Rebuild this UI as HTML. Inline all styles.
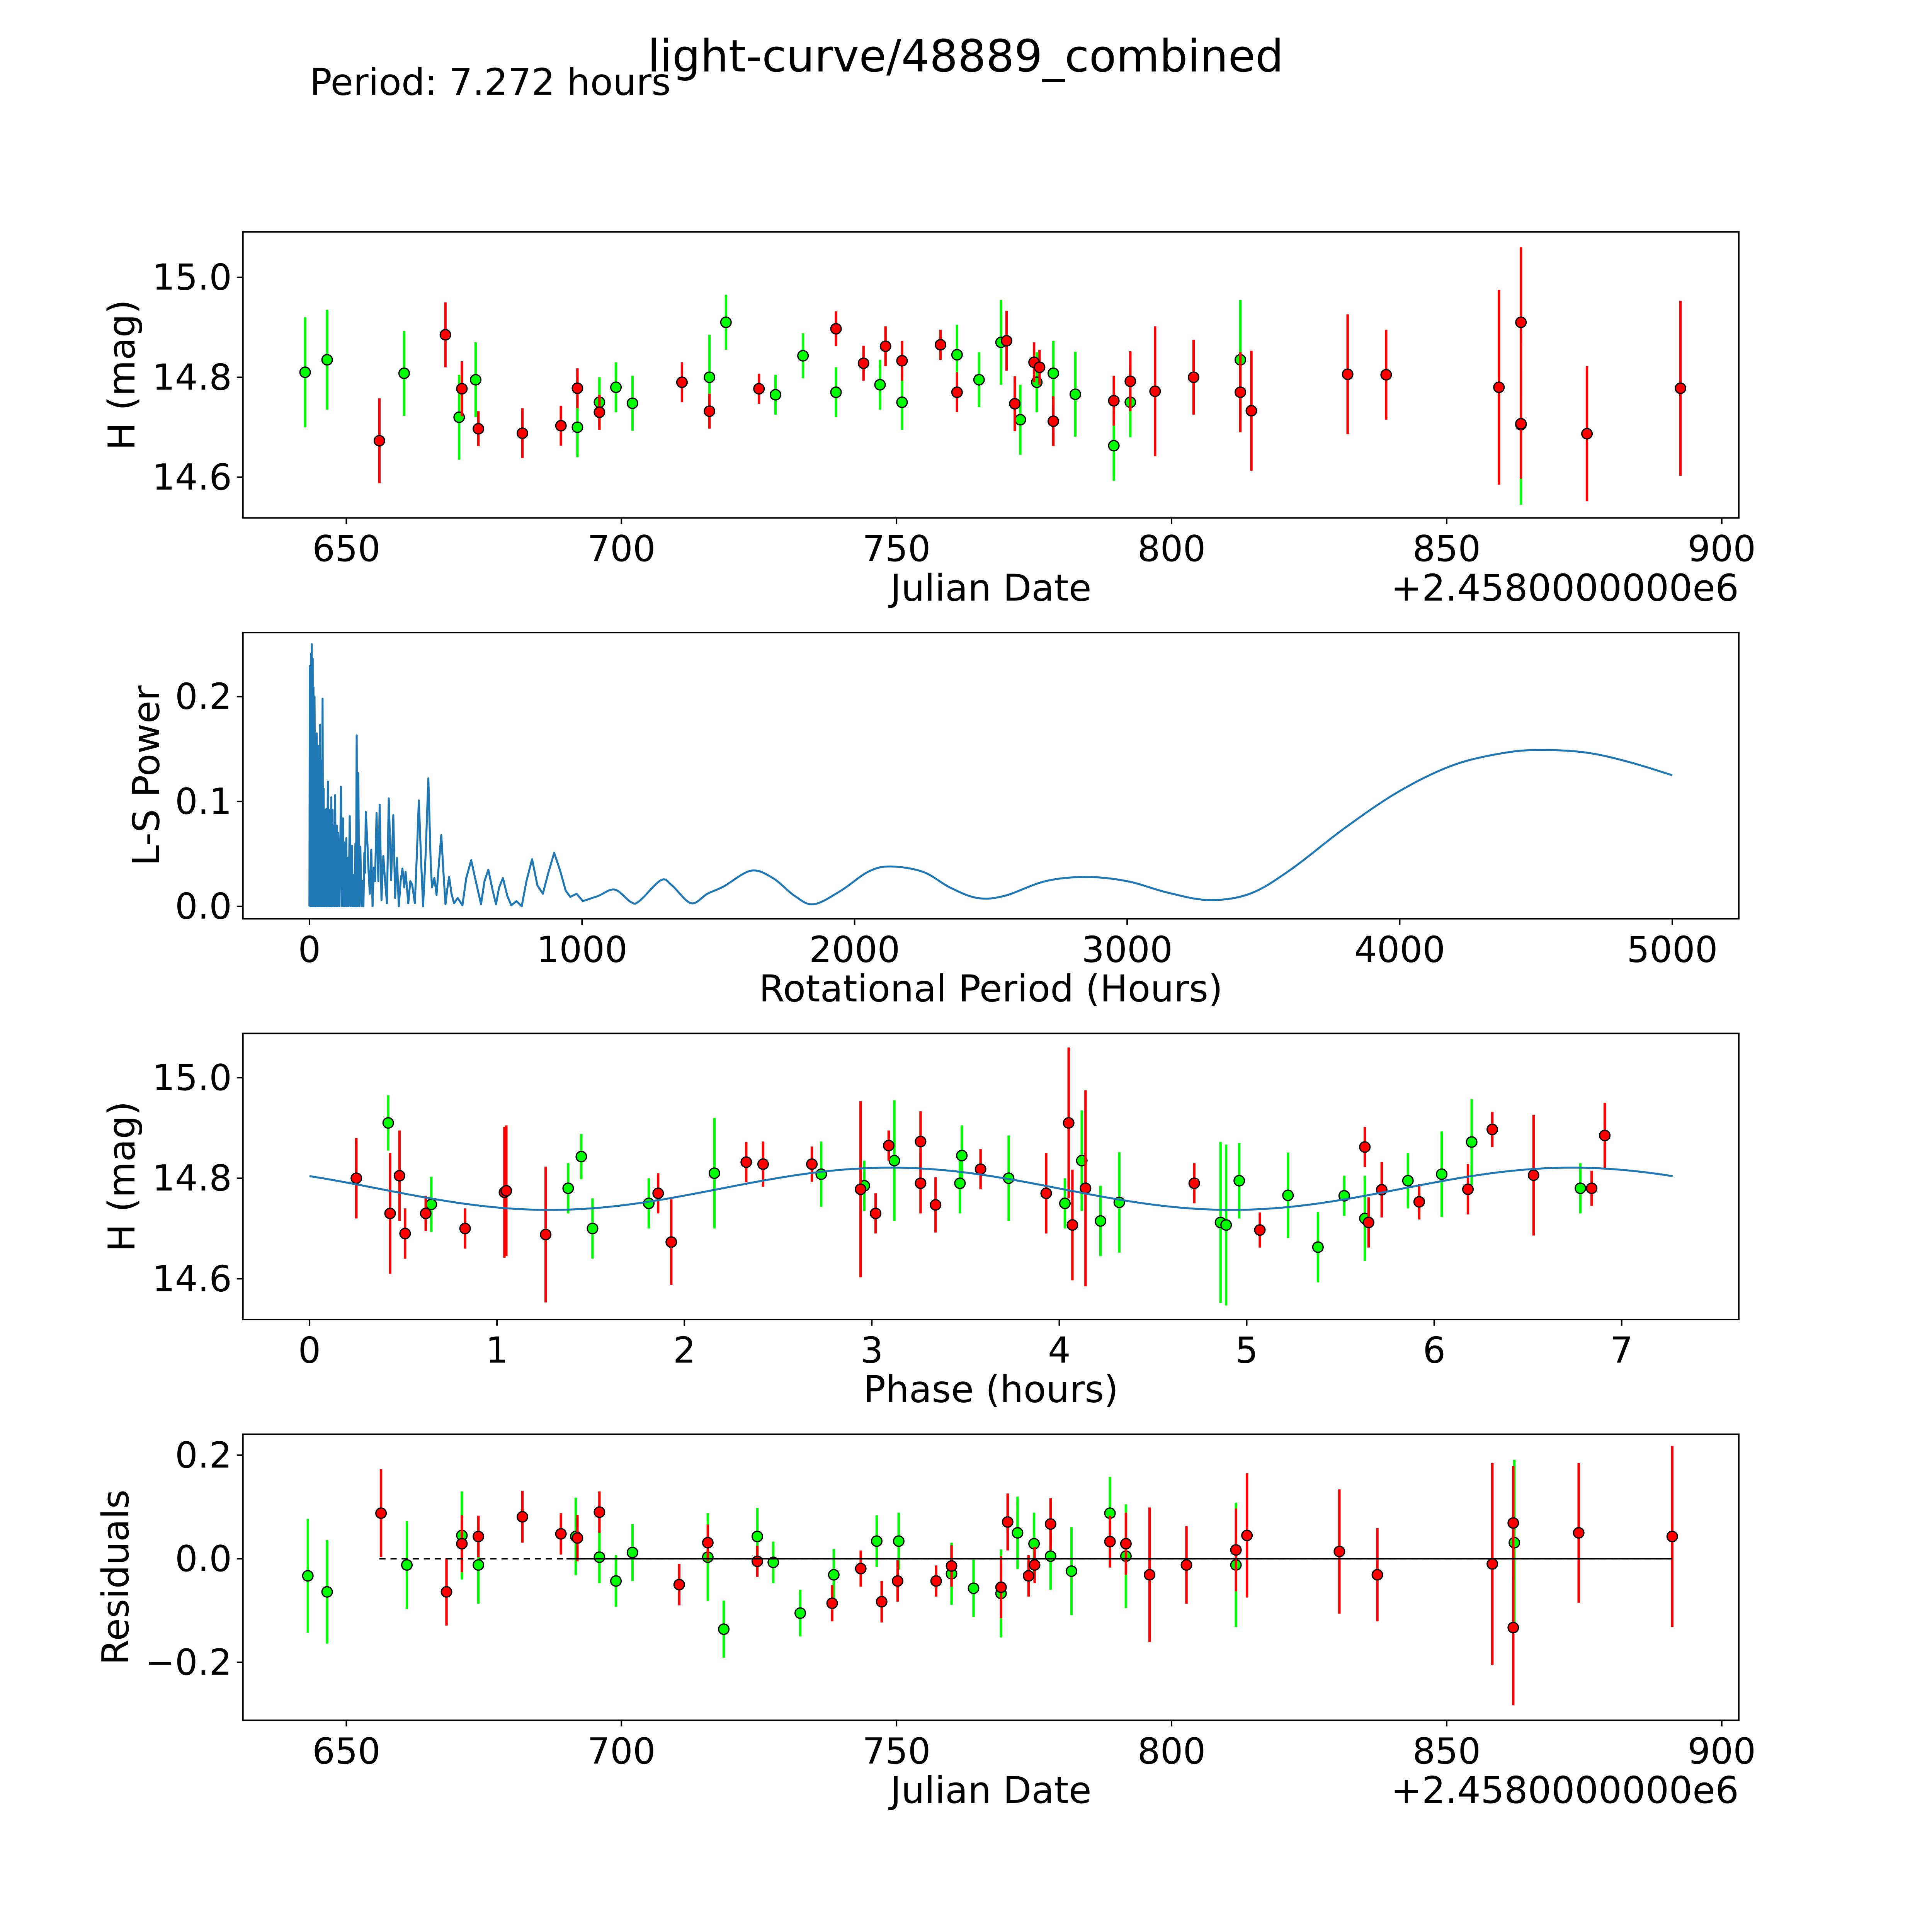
<!DOCTYPE html>
<html><head><meta charset="utf-8"><style>
html,body{margin:0;padding:0;background:#fff;width:5400px;height:5400px;overflow:hidden;}
svg{display:block;width:5400px;height:5400px;font-family:"DejaVu Sans","Liberation Sans",sans-serif;}
</style></head><body>
<svg id="chart" xmlns="http://www.w3.org/2000/svg" width="5400" height="5400" viewBox="0 0 1692 1692" preserveAspectRatio="xMinYMin meet">
<rect x="0" y="0" width="1692" height="1692" fill="#fff"/>
<text x="783" y="58" font-size="36" text-anchor="middle">light-curve/48889_combined</text>
<text x="251" y="77" font-size="30">Period: 7.272 hours</text>
</svg>
<script>
// ---- Panel 1 / 4 data (Julian date offset, H mag, error) ----
const greenDates=[642.5,646.5,660.5,670.5,673.5,692,696,699,702,716,719,728,733,739,747,751,761,765,769,772.5,775.5,778.5,782.5,789.5,792.5,812.5,863.5];
const greenMags=[14.81,14.835,14.808,14.72,14.795,14.70,14.75,14.78,14.748,14.80,14.91,14.765,14.843,14.77,14.785,14.75,14.845,14.795,14.87,14.715,14.79,14.808,14.766,14.663,14.75,14.835,14.705];
const greenErrs=[0.11,0.1,0.085,0.085,0.075,0.06,0.05,0.05,0.055,0.085,0.055,0.04,0.045,0.05,0.05,0.055,0.06,0.055,0.085,0.07,0.06,0.065,0.085,0.07,0.07,0.12,0.16];
const redDates=[656,668,671,674,682,689,692,696,711,716,725,739,744,748,751,758,761,770,771.5,775,776,778.5,789.5,792.5,797,804,812.5,814.5,832,839,859.5,863.5,863.5,875.5,892.5];
const redMags=[14.673,14.885,14.777,14.697,14.688,14.703,14.778,14.73,14.79,14.732,14.777,14.897,14.828,14.862,14.833,14.865,14.77,14.873,14.747,14.83,14.82,14.712,14.753,14.792,14.772,14.80,14.77,14.733,14.806,14.805,14.78,14.91,14.707,14.687,14.778];
const redErrs=[0.085,0.065,0.055,0.035,0.05,0.04,0.04,0.035,0.04,0.035,0.03,0.035,0.035,0.04,0.04,0.03,0.04,0.06,0.055,0.04,0.035,0.05,0.05,0.06,0.13,0.075,0.08,0.12,0.12,0.09,0.195,0.15,0.11,0.135,0.175];
// ---- Periodogram ----
const lsPeriods=[0,1.3,3.3,5.4,7.4,8.7,10.7,12,13.4,14.7,16.7,18.7,22,26.8,28.8,31.4,33.5,34.8,36.8,38.8,40.8,43.5,45.5,48.2,50.2,52.2,54.2,56.9,59.5,62.2,64.9,67.6,70.2,72.3,75.6,80.3,82.3,85,87,89,91.7,94.3,97,100.4,103,105.7,110.4,115.7,119,123,125.8,129.1,131.8,135.1,137.8,140.5,143.8,147.8,151.2,155.9,158.6,161.9,164.6,168.6,170.6,173.3,175.9,179.3,182.6,186.7,190.7,194.7,198,201.4,204,206.7,212.7,216.8,221.4,226.8,231.5,236.2,240.8,246.2,252.9,257.6,264.3,271,277.6,284.3,291,299.7,307.7,314.4,321.1,327.8,334.5,341.2,347.9,352.6,362.6,370,376.6,386.7,394,401.4,408.8,416.8,426.2,436.2,444.9,449.6,458.3,466.3,475,483.7,491.7,499.1,506.4,512.5,521.2,530.5,543.9,561.3,575.3,593.4,612.1,629.5,642.2,656.3,672.3,684.4,695.8,709.8,725.9,740.6,759.3,778.7,796.1,816.8,836.3,856.3,876.4,897.8,919.9,940,957,980,1003,
1060,1120,1180,1210,1290,1330,1400,1460,1520,1620,1700,1780,1850,1950,2050,2130,2250,2350,2450,2550,2700,2850,3000,3150,3300,3450,3600,3800,4000,4200,4400,4550,4700,4850,5000];
const lsPower=[0,0.229,0,0.241,0,0.250,0,0.236,0,0.209,0,0.2,0,0.165,0,0.153,0,0.127,0,0.173,0,0.139,0,0.198,0,0.112,0,0.092,0,0.093,0,0.119,0,0.092,0,0.104,0,0.092,0,0.077,0,0.106,0,0.077,0,0.07,0,0.114,0,0.084,0,0.061,0,0.065,0,0.046,0,0.086,0,0.058,0,0.03,0,0.06,0,0.163,0,0.127,0,0.057,0,0.024,0,0.051,0.032,0.09,0.06,0.034,0.012,0.054,0,0.037,0.024,0.089,0.024,0.097,0.006,0.048,0.024,0.003,0.103,0.025,0.087,0.008,0.046,0,0.024,0.036,0.018,0.033,0.003,0.024,0.021,0.003,0.049,0.101,0.049,0,0.049,0.122,0.041,0.018,0.027,0.011,0.041,0.068,0.032,0.002,0.018,0.028,0.012,0.003,0.008,0.001,0.027,0.044,0.022,0.002,0.024,0.035,0.015,0.002,0.018,0.027,0.01,0.001,0.005,0,0.024,0.045,0.02,0.012,0.032,0.051,0.034,0.015,0.009,0.012,0.005,
0.01,0.016,0.004,0.005,0.025,0.02,0.003,0.012,0.019,0.034,0.027,0.01,0.002,0.015,0.033,0.038,0.033,0.018,0.008,0.01,0.024,0.028,0.024,0.013,0.006,0.012,0.035,0.075,0.11,0.135,0.147,0.149,0.146,0.137,0.125];
const smoothFrom=1003;
// ---- Phase-folded data ----
const redPhase=[0.25,0.43,0.48,0.51,0.62,0.83,1.04,1.05,1.26,1.86,1.93,2.33,2.42,2.68,2.94,3.02,3.09,3.26,3.26,3.34,3.58,3.93,4.05,4.07,4.14,4.72,5.07,5.63,5.65,5.72,5.92,6.18,6.31,6.53,6.84,6.91];
const redPhaseMag=[14.80,14.73,14.805,14.69,14.73,14.70,14.772,14.775,14.688,14.77,14.673,14.832,14.828,14.828,14.778,14.73,14.865,14.873,14.79,14.747,14.818,14.77,14.91,14.707,14.78,14.79,14.697,14.862,14.712,14.777,14.753,14.778,14.897,14.806,14.78,14.885];
const redPhaseErr=[0.08,0.12,0.09,0.05,0.035,0.04,0.13,0.13,0.135,0.04,0.085,0.04,0.045,0.035,0.175,0.04,0.03,0.06,0.06,0.055,0.04,0.08,0.15,0.11,0.195,0.04,0.035,0.04,0.05,0.055,0.035,0.05,0.035,0.12,0.035,0.065];
const greenPhase=[0.42,0.65,1.38,1.45,1.51,1.81,2.16,2.73,2.96,3.12,3.47,3.48,3.73,4.03,4.12,4.22,4.32,4.86,4.89,4.96,5.22,5.38,5.52,5.63,5.86,6.04,6.20,6.78];
const greenPhaseMag=[14.91,14.748,14.78,14.843,14.70,14.75,14.81,14.808,14.785,14.835,14.79,14.845,14.80,14.75,14.835,14.715,14.752,14.712,14.707,14.795,14.766,14.663,14.765,14.72,14.795,14.808,14.872,14.78];
const greenPhaseErr=[0.055,0.055,0.05,0.045,0.06,0.05,0.11,0.065,0.05,0.12,0.06,0.06,0.085,0.05,0.1,0.07,0.1,0.16,0.16,0.075,0.085,0.07,0.04,0.085,0.055,0.085,0.085,0.05];
const modelParams=[14.779,0.042,3.636,2.19,7.272]; // mean, amplitude, harmonic period, phase offset, full period
// ---- Residuals ----
const greenResDates=[643,646.5,661,671,674,691.7,696,699,702,715.7,718.6,724.7,727.6,732.5,738.6,746.4,750.4,760,764,769,772,775,778,781.8,788.8,791.7,811.7,862.3];
const greenRes=[-0.033,-0.064,-0.012,0.045,-0.012,0.043,0.003,-0.043,0.012,0.003,-0.136,0.043,-0.007,-0.105,-0.031,0.034,0.034,-0.029,-0.057,-0.067,0.05,0.029,0.005,-0.024,0.088,0.005,-0.012,0.031];
const greenResErr=[0.11,0.1,0.085,0.085,0.075,0.075,0.05,0.05,0.055,0.085,0.055,0.055,0.04,0.045,0.05,0.05,0.055,0.06,0.055,0.085,0.07,0.06,0.065,0.085,0.07,0.1,0.12,0.16];
const redResDates=[656.3,668.2,671,674,682,689,692,696,710.5,715.7,724.7,738.3,743.5,747.3,750.2,757.2,760,769,770.2,774,775.1,778,788.8,791.7,796,802.7,811.7,813.7,830.5,837.4,858.3,862.1,862.1,874,891];
const redRes=[0.088,-0.064,0.029,0.043,0.081,0.048,0.04,0.09,-0.05,0.031,-0.005,-0.086,-0.019,-0.083,-0.043,-0.043,-0.014,-0.055,0.071,-0.033,-0.012,0.067,0.033,0.029,-0.031,-0.012,0.017,0.045,0.014,-0.031,-0.01,0.069,-0.133,0.05,0.043];
const redResErr=[0.085,0.065,0.055,0.04,0.05,0.04,0.045,0.04,0.04,0.035,0.03,0.035,0.035,0.04,0.04,0.03,0.04,0.06,0.055,0.04,0.035,0.05,0.05,0.06,0.13,0.075,0.08,0.12,0.12,0.09,0.195,0.11,0.15,0.135,0.175];
// ---- Ticks ----
const dateTicks=[650,700,750,800,850,900];
const magTicks=[14.6,14.8,15.0];
const magTickLabels=["14.6","14.8","15.0"];
const periodTicks=[0,1000,2000,3000,4000,5000];
const powerTicks=[0,0.1,0.2];
const powerTickLabels=["0.0","0.1","0.2"];
const phaseTicks=[0,1,2,3,4,5,6,7];
const resTicks=[-0.2,0,0.2];
const resTickLabels=["\u22120.2","0.0","0.2"];

const NS="http://www.w3.org/2000/svg";
const svg=document.getElementById('chart');
function mk(tag,attrs,parent){const e=document.createElementNS(NS,tag);for(const k in attrs)e.setAttribute(k,attrs[k]);(parent||svg).appendChild(e);return e;}
function lin(d0,d1,r0,r1){return v=>r0+(v-d0)*(r1-r0)/(d1-d0);}
function axesFrame(name,p,xs,ys,xt,xl,yt,yl,xlabel,ylabel,ylabX,offset){
  const g=mk('g',{});
  
  
  xt.forEach((t,i)=>{const x=xs(t);
    const l=mk('line',{x1:x,x2:x,y1:p.y1,y2:p.y1+5,stroke:'#000','stroke-width':1.2},g);
    
    const tx=mk('text',{x:x,y:p.y1+35,'font-size':29,'text-anchor':'middle'},g);tx.textContent=xl[i];
    });
  yt.forEach((t,i)=>{const y=ys(t);
    const l=mk('line',{x1:p.x0-5,x2:p.x0,y1:y,y2:y,stroke:'#000','stroke-width':1.2},g);
    
    const tx=mk('text',{x:p.x0-9,y:y+10,'font-size':29,'text-anchor':'end'},g);tx.textContent=yl[i];
    });
  const xlab=mk('text',{x:(p.x0+p.x1)/2,y:p.y1+67,'font-size':30,'text-anchor':'middle'},g);xlab.textContent=xlabel;
  
  const cy=(p.y0+p.y1)/2;
  const ylab=mk('text',{x:ylabX,y:cy,'font-size':30,'text-anchor':'middle',transform:`rotate(-90 ${ylabX} ${cy})`},g);ylab.textContent=ylabel;
  
  if(offset){const o=mk('text',{x:p.x1,y:p.y1+67,'font-size':30,'text-anchor':'end'},g);o.textContent=offset;
    }
  return g;
}
function border(p){const r=mk('rect',{x:p.x0,y:p.y0,width:p.x1-p.x0,height:p.y1-p.y0,fill:'none',stroke:'#000','stroke-width':1.2});
  }
function errPoints(xs,ys,X,Y,E,color,name){
  const g=mk('g',{});
  
  
  X.forEach((x,i)=>{const l=mk('line',{x1:xs(x),x2:xs(x),y1:ys(Y[i]-E[i]),y2:ys(Y[i]+E[i]),stroke:color,'stroke-width':2},g);
    });
  X.forEach((x,i)=>{const c=mk('circle',{cx:xs(x),cy:ys(Y[i]),r:4.2,fill:color,stroke:'#000','stroke-width':1},g);
    });
}
const dLabels=dateTicks.map(String);
// Panel 1
const p1={x0:197,x1:1410,y0:188,y1:420};
const xs1=lin(631.2,903.1,197,1410), ys1=lin(14.5185,15.091,420,188);
axesFrame('light-curve-axes',p1,xs1,ys1,dateTicks,dLabels,magTicks,magTickLabels,'Julian Date','H (mag)',109,'+2.4580000000e6');
errPoints(xs1,ys1,greenDates,greenMags,greenErrs,'#00ff00','green-band-points');
errPoints(xs1,ys1,redDates,redMags,redErrs,'#ff0000','red-band-points');
border(p1);
// Panel 2
const p2={x0:197,x1:1410,y0:513,y1:745};
const xs2=lin(-244,5244,197,1410), ys2=lin(-0.0118,0.261,745,513);
axesFrame('periodogram-axes',p2,xs2,ys2,periodTicks,periodTicks.map(String),powerTicks,powerTickLabels,'Rotational Period (Hours)','L-S Power',129,null);
(function(){
  let d='';
  let i=0;
  for(;i<lsPeriods.length&&lsPeriods[i]<=smoothFrom;i++){d+=(i?'L':'M')+xs2(lsPeriods[i]).toFixed(2)+' '+ys2(lsPower[i]).toFixed(2);}
  const s=i-1;
  const P=lsPeriods.slice(s).map((v,k)=>[xs2(v),ys2(lsPower[s+k])]);
  for(let k=0;k<P.length-1;k++){
    const p0=P[Math.max(0,k-1)],a=P[k],b=P[k+1],p3=P[Math.min(P.length-1,k+2)];
    d+=`C${a[0]+(b[0]-p0[0])/6} ${a[1]+(b[1]-p0[1])/6} ${b[0]-(p3[0]-a[0])/6} ${b[1]-(p3[1]-a[1])/6} ${b[0]} ${b[1]}`;
  }
  const path=mk('path',{d:d,fill:'none',stroke:'#1f77b4','stroke-width':1.6,'stroke-linejoin':'round'});
  
  
})();
border(p2);
// Panel 3
const p3={x0:197,x1:1410,y0:838,y1:1070};
const xs3=lin(-0.355,7.625,197,1410), ys3=lin(14.519,15.088,1070,838);
axesFrame('phase-folded-axes',p3,xs3,ys3,phaseTicks,phaseTicks.map(String),magTicks,magTickLabels,'Phase (hours)','H (mag)',109,null);
errPoints(xs3,ys3,greenPhase,greenPhaseMag,greenPhaseErr,'#00ff00','green-phase-points');
errPoints(xs3,ys3,redPhase,redPhaseMag,redPhaseErr,'#ff0000','red-phase-points');
(function(){
  let d='';
  for(let k=0;k<=300;k++){const ph=modelParams[4]*k/300;
    const m=modelParams[0]+modelParams[1]*Math.sin(2*Math.PI*(ph-modelParams[3])/modelParams[2]);
    d+=(k?'L':'M')+xs3(ph).toFixed(2)+' '+ys3(m).toFixed(2);}
  const path=mk('path',{d:d,fill:'none',stroke:'#1f77b4','stroke-width':1.6});
  
  
})();
border(p3);
// Panel 4
const p4={x0:197,x1:1410,y0:1163,y1:1395};
const xs4=xs1, ys4=lin(-0.312,0.2405,1395,1163);
axesFrame('residuals-axes',p4,xs4,ys4,dateTicks,dLabels,resTicks,resTickLabels,'Julian Date','Residuals',104,'+2.4580000000e6');
errPoints(xs4,ys4,greenResDates,greenRes,greenResErr,'#00ff00','green-residual-points');
errPoints(xs4,ys4,redResDates,redRes,redResErr,'#ff0000','red-residual-points');
(function(){
  const z1=mk('line',{x1:xs4(656),x2:xs4(891),y1:ys4(0),y2:ys4(0),stroke:'#000','stroke-width':1.2,'stroke-dasharray':'5 4'});
  
  const z2=mk('line',{x1:xs4(690),x2:xs4(891),y1:ys4(0),y2:ys4(0),stroke:'#000','stroke-width':1.2});
  
})();
border(p4);
</script>
</body></html>
